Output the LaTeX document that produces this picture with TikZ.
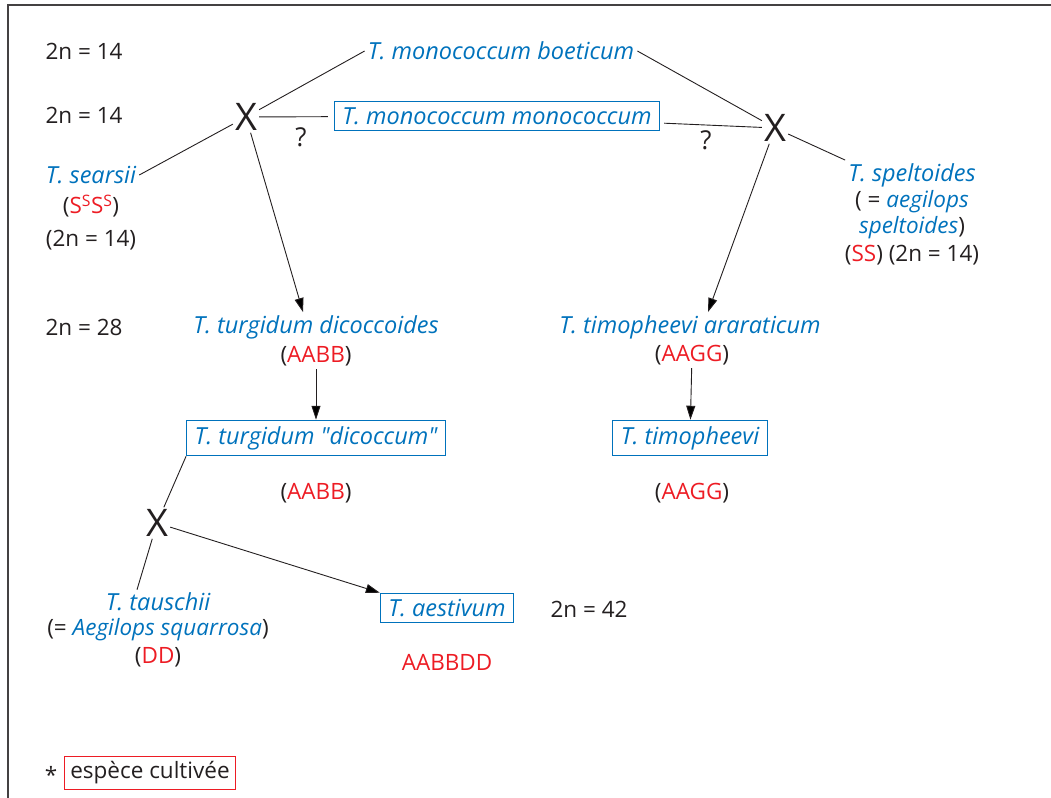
\documentclass[tikz,border=0pt]{standalone}
\usepackage{fontspec}
\setmainfont{Open Sans}[Ligatures=TeXOff]
\usetikzlibrary{arrows.meta}
\definecolor{spblue}{RGB}{0,114,188}
\definecolor{gnred}{RGB}{237,28,36}
\definecolor{ink}{RGB}{35,31,32}
\newcommand{\gnm}[1]{\textcolor{gnred}{#1}}
\newcommand{\sname}[1]{\textcolor{spblue}{\itshape #1}}

\begin{document}
\begin{tikzpicture}[x=1pt,y=-1pt,>={Triangle[length=14pt,width=9pt]},
  txt/.style={font=\fontsize{22.5}{27}\selectfont,text=ink,inner sep=3pt},
  spc/.style={txt,text=spblue,font=\fontsize{23.5}{27}\selectfont\itshape},
  cult/.style={spc,draw=spblue,line width=1pt,inner xsep=8pt,inner ysep=6pt},
  cross/.style={font=\fontsize{38}{38}\selectfont,text=ink,inner sep=2pt},
  qmark/.style={txt,font=\fontsize{26}{30}\selectfont},
  link/.style={draw=ink,line width=0.9pt}]
\useasboundingbox (0,0) rectangle (1051,797);
\draw[line width=2pt,ink!85] (1060,5) -- (8,5) -- (8,805);

\node[txt]  (n1)     at (84,51)   {2n = 14};
\node[spc]  (boet)   at (501,51)  {T. monococcum boeticum};
\node[txt]  (n2)     at (84,115)  {2n = 14};
\node[cult] (mono)   at (497,116) {T. monococcum monococcum};
\node[cross] (xl)    at (246,117) {X};
\node[cross] (xr)    at (775,128) {X};
\node[qmark] (ql)    at (301,137) {?};
\node[qmark] (qr)    at (706,140) {?};
\node[spc]  (sear)   at (91,175)  {T. searsii};
\node[txt]  (searg)  at (91,206)  {(\gnm{S\textsuperscript{S}S\textsuperscript{S}})};
\node[txt]  (sear2n) at (91,240)  {(2n = 14)};
\node[spc]  (spel)   at (912,175) {T. speltoides};
\node[txt]  (spel1)  at (912,202) {( = \sname{aegilops}};
\node[txt]  (spel2)  at (912,228) {\sname{speltoides})};
\node[txt]  (spelg)  at (912,255) {(\gnm{SS}) (2n = 14)};
\node[txt]  (n3)     at (84,327)  {2n = 28};
\node[spc]  (dicoid) at (316,327) {T. turgidum dicoccoides};
\node[txt]  (aabb1)  at (316,356) {(\gnm{AABB})};
\node[cult] (dicoc)  at (316,438) {T. turgidum "dicoccum"};
\node[txt]  (aabb2)  at (316,493) {(\gnm{AABB})};
\node[spc]  (timara) at (690,327) {T. timopheevi araraticum};
\node[txt]  (aagg1)  at (692,355) {(\gnm{AAGG})};
\node[cult] (timo)   at (690,438) {T. timopheevi};
\node[txt]  (aagg2)  at (692,493) {(\gnm{AAGG})};
\node[cross] (xb)    at (157,523) {X};
\node[spc]  (taus)   at (158,602) {T. tauschii};
\node[txt]  (taus1)  at (158,630) {(= \sname{Aegilops squarrosa})};
\node[txt]  (tausg)  at (158,657) {(\gnm{DD})};
\node[cult] (aest)   at (447,608) {T. aestivum};
\node[txt]  (n4)     at (589,609) {2n = 42};
\node[txt,text=gnred] (aabbdd) at (447,662) {AABBDD};
\node[txt]  (star)   at (51,775)  {*};
\node[txt,draw=gnred,line width=1pt,inner xsep=6pt,inner ysep=5pt] (key) at (150,773) {espèce cultivée};

\path[link]
(xl) edge (boet.west)
(xl) edge[shorten >=6pt] (mono)
(xl) edge (sear.east)
(xr) edge (boet.east)
(xr) edge[shorten >=4pt] (mono)
(xr) edge (spel.north west)
(dicoc.south west) edge (xb)
(xb) edge ([xshift=-21pt]taus.north)
;
\path[link,->]
(xl) edge ([xshift=-13pt]dicoid.north)
(xr) edge ([xshift=18pt]timara.north)
(aabb1) edge (dicoc)
(aagg1) edge (timo)
(xb) edge (aest.north west)
;
\end{tikzpicture}
\end{document}
